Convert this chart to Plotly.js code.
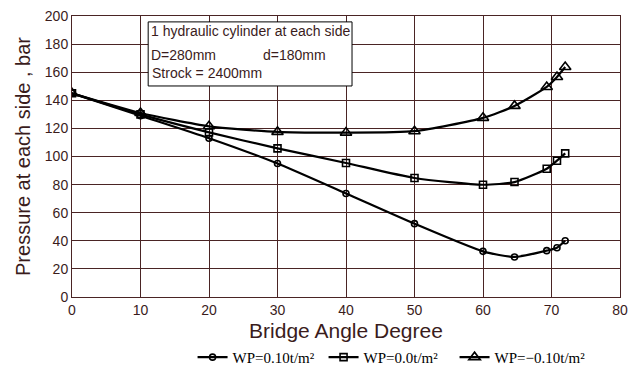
<!DOCTYPE html>
<html><head><meta charset="utf-8">
<script src="https://cdn.plot.ly/plotly-3.0.1.min.js"></script>
<style>html,body{margin:0;padding:0;background:#fff}#c{width:628px;height:375px}</style>
</head><body><div id="c"></div>
<script>
const angleA = [0, 10, 20, 30, 40, 50, 60, 64.6, 69.3, 70.8, 72.0];
const wpPos = [145, 129, 113, 95, 73.7, 52.2, 32.5, 28.5, 33, 35.1, 40];
const wpZero = [145, 130, 117.2, 105.8, 95.4, 84.7, 79.9, 81.8, 91.3, 97, 102.2];
const wpNeg = [145, 131, 121.5, 117.5, 117, 118, 127.5, 136, 149.5, 156.6, 163.7];
const names = ['WP=0.10t/m²', 'WP=0.0t/m²', 'WP=−0.10t/m²'];
const xTicks = [0, 10, 20, 30, 40, 50, 60, 70, 80];
const yTicks = [0, 20, 40, 60, 80, 100, 120, 140, 160, 180, 200];

const ink = '#3a1c1c';
const grid = '#4a2424';
function tr(y, name, sym, size) {
  return {x: angleA, y: y, name: name, type: 'scatter', mode: 'lines+markers',
    line: {color: '#000', width: 2.2, shape: 'spline', smoothing: 0.6},
    marker: {symbol: sym, size: size, color: '#000', line: {color: '#000', width: 1.6}}};
}
const data = [
  tr(wpPos, names[0], 'circle-open', 6),
  tr(wpZero, names[1], 'square-open', 7),
  tr(wpNeg, names[2], 'triangle-up-open', 10)
];
const layout = {
  width: 628, height: 375,
  margin: {l: 72, r: 8, t: 16, b: 78, autoexpand: false},
  paper_bgcolor: '#fff', plot_bgcolor: '#fff',
  font: {family: 'Liberation Sans, Arial, sans-serif', color: ink, size: 14},
  showlegend: true,
  legend: {orientation: 'h', x: 0.22, xanchor: 'left', y: -0.215, yanchor: 'middle',
    font: {family: 'Liberation Serif, Times New Roman, serif', size: 15, color: '#000'},
    itemwidth: 30, entrywidth: 86, entrywidthmode: 'pixels', tracegroupgap: 0},
  xaxis: {range: [0, 80], tickvals: xTicks, ticktext: xTicks.map(String), automargin: false,
    showgrid: true, gridcolor: grid, gridwidth: 1, zeroline: false,
    showline: true, linecolor: grid, linewidth: 1, mirror: true, ticks: '',
    tickfont: {size: 14, color: ink},
    title: {text: 'Bridge Angle Degree', font: {size: 21, color: ink}, standoff: 6}},
  yaxis: {range: [0, 200], tickvals: yTicks, ticktext: yTicks.map(String), automargin: false,
    showgrid: true, gridcolor: grid, gridwidth: 1, zeroline: false,
    showline: true, linecolor: grid, linewidth: 1, mirror: true, ticks: '',
    tickfont: {size: 14, color: ink},
    title: {text: 'Pressure at each side , bar', font: {size: 20, color: ink}, standoff: 8}},
  shapes: [{type: 'rect', xref: 'paper', yref: 'paper', x0: 0.139, x1: 0.511, y0: 0.751, y1: 0.979,
    line: {color: '#000', width: 1}, fillcolor: '#fff', layer: 'above'}],
  annotations: [
    {xref: 'paper', yref: 'paper', x: 0.141, y: 0.948, xanchor: 'left', yanchor: 'middle', showarrow: false,
      text: '1 hydraulic cylinder at each side', font: {size: 14, color: ink}},
    {xref: 'paper', yref: 'paper', x: 0.141, y: 0.862, xanchor: 'left', yanchor: 'middle', showarrow: false,
      text: 'D=280mm', font: {size: 14, color: ink}},
    {xref: 'paper', yref: 'paper', x: 0.345, y: 0.862, xanchor: 'left', yanchor: 'middle', showarrow: false,
      text: 'd=180mm', font: {size: 14, color: ink}},
    {xref: 'paper', yref: 'paper', x: 0.143, y: 0.796, xanchor: 'left', yanchor: 'middle', showarrow: false,
      text: 'Strock = 2400mm', font: {size: 14, color: ink}}
  ]
};
Plotly.newPlot('c', data, layout, {displayModeBar: false, staticPlot: true});
</script></body></html>
